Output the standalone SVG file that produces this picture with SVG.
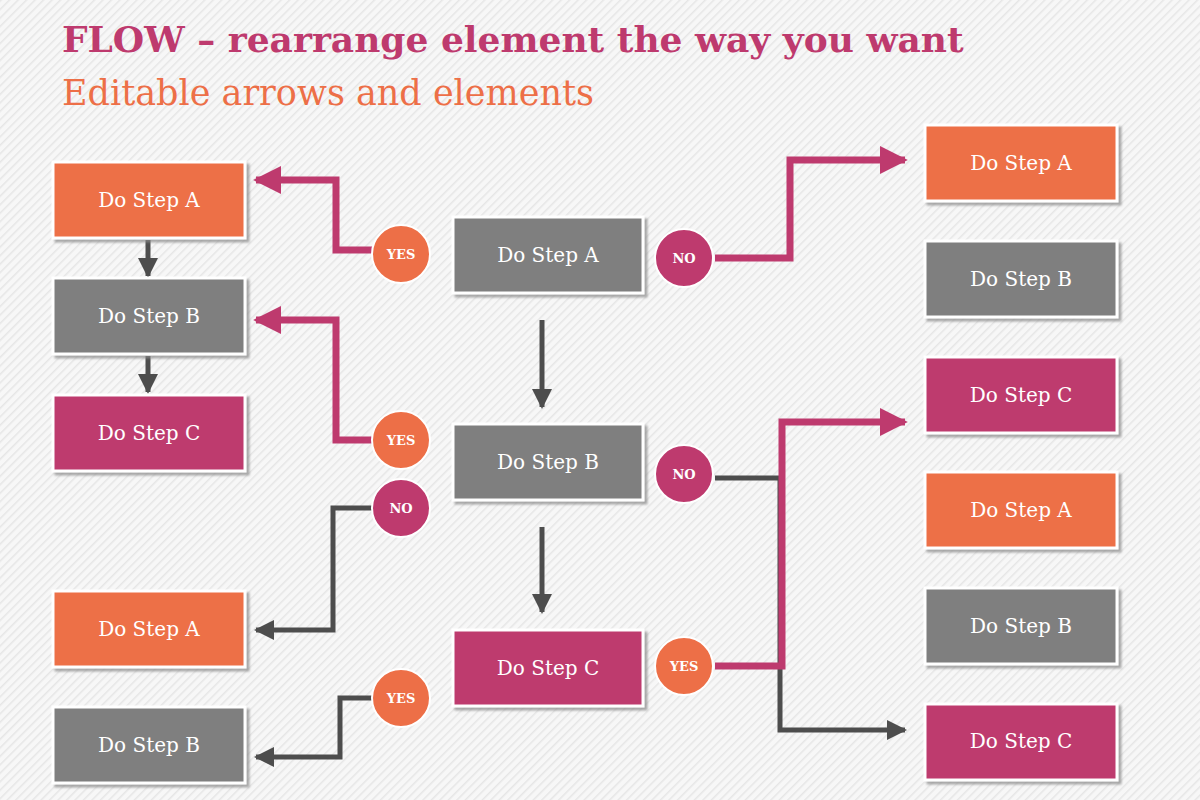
<svg xmlns="http://www.w3.org/2000/svg" width="1200" height="800" viewBox="0 0 1200 800">
<defs>
<pattern id="bg" width="6" height="6" patternUnits="userSpaceOnUse" patternTransform="rotate(45)">
<rect width="6" height="6" fill="#f7f7f7"/><rect width="1.5" height="6" fill="#e6e6e6"/>
</pattern>
<filter id="sh" x="-10%" y="-10%" width="130%" height="130%"><feDropShadow dx="3" dy="3" stdDeviation="1" flood-color="#888" flood-opacity="0.7"/></filter>
<marker id="am" viewBox="0 0 10 10" refX="9" refY="5" markerWidth="4" markerHeight="4" orient="auto" markerUnits="strokeWidth"><path d="M0,0L10,5L0,10z" fill="#be3a6e"/></marker>
<marker id="ag" viewBox="0 0 10 10" refX="9" refY="5" markerWidth="4" markerHeight="4" orient="auto" markerUnits="strokeWidth"><path d="M0,0L10,5L0,10z" fill="#4d4d4d"/></marker>
</defs>
<style>
.box{stroke:#fff;stroke-width:3;filter:url(#sh)}
.o{fill:#ed6f47}.g{fill:#7f7f7f}.m{fill:#be3a6e}
.bt{font-family:"DejaVu Serif",serif;font-size:20px;fill:#fff;text-anchor:middle;dominant-baseline:middle}
.ct{font-family:"DejaVu Serif",serif;font-size:13px;font-weight:bold;fill:#fff;text-anchor:middle;dominant-baseline:middle}
.cir{stroke:#fff;stroke-width:2}
.lm{fill:none;stroke:#be3a6e;stroke-width:7;marker-end:url(#am)}
.lg{fill:none;stroke:#4d4d4d;stroke-width:5;marker-end:url(#ag)}
.lgn{fill:none;stroke:#4d4d4d;stroke-width:5}
.lmn{fill:none;stroke:#be3a6e;stroke-width:7}
</style>
<rect width="1200" height="800" fill="url(#bg)"/>
<text x="62" y="52" font-family="DejaVu Serif,serif" font-weight="bold" font-size="36" fill="#be3a6e">FLOW – rearrange element the way you want</text>
<text x="62" y="105" font-family="DejaVu Serif,serif" font-size="35" fill="#ed6f47">Editable arrows and elements</text>
<g id="connectors">
<path class="lm" d="M373,250H336V180H256"/>
<path class="lm" d="M715,258H790V160H905"/>
<path class="lg" d="M148,240V276"/>
<path class="lg" d="M148,356V392"/>
<path class="lm" d="M373,440H336V320H256"/>
<path class="lg" d="M372,508H333V630H256"/>
<path class="lg" d="M372,698H340V757H256"/>
<path class="lg" d="M542,320V407"/>
<path class="lg" d="M542,527V612"/>
<path class="lg" d="M715,478H780V730H905"/>
<path class="lm" d="M715,666H782V422H905"/>
</g>
<g id="l1"><rect class="box o" x="53" y="162" width="192" height="76"/><text class="bt" x="149" y="201">Do Step A</text></g>
<g id="l2"><rect class="box g" x="53" y="278" width="192" height="76"/><text class="bt" x="149" y="317">Do Step B</text></g>
<g id="l3"><rect class="box m" x="53" y="395" width="192" height="76"/><text class="bt" x="149" y="434">Do Step C</text></g>
<g id="l4"><rect class="box o" x="53" y="591" width="192" height="76"/><text class="bt" x="149" y="630">Do Step A</text></g>
<g id="l5"><rect class="box g" x="53" y="707" width="192" height="76"/><text class="bt" x="149" y="746">Do Step B</text></g>
<g id="c1"><rect class="box g" x="453" y="217" width="190" height="76"/><text class="bt" x="548" y="256">Do Step A</text></g>
<g id="c2"><rect class="box g" x="453" y="424" width="190" height="76"/><text class="bt" x="548" y="463">Do Step B</text></g>
<g id="c3"><rect class="box m" x="453" y="630" width="190" height="76"/><text class="bt" x="548" y="669">Do Step C</text></g>
<g id="r1"><rect class="box o" x="925" y="125" width="192" height="76"/><text class="bt" x="1021" y="164">Do Step A</text></g>
<g id="r2"><rect class="box g" x="925" y="241" width="192" height="76"/><text class="bt" x="1021" y="280">Do Step B</text></g>
<g id="r3"><rect class="box m" x="925" y="357" width="192" height="76"/><text class="bt" x="1021" y="396">Do Step C</text></g>
<g id="r4"><rect class="box o" x="925" y="472" width="192" height="76"/><text class="bt" x="1021" y="511">Do Step A</text></g>
<g id="r5"><rect class="box g" x="925" y="588" width="192" height="76"/><text class="bt" x="1021" y="627">Do Step B</text></g>
<g id="r6"><rect class="box m" x="925" y="704" width="192" height="76"/><text class="bt" x="1021" y="742">Do Step C</text></g>
<g id="y1"><circle class="cir o" cx="401" cy="254" r="29"/><text class="ct" x="401" y="255">YES</text></g>
<g id="n1"><circle class="cir m" cx="684" cy="258" r="29"/><text class="ct" x="684" y="259">NO</text></g>
<g id="y2"><circle class="cir o" cx="401" cy="440" r="29"/><text class="ct" x="401" y="441">YES</text></g>
<g id="n2"><circle class="cir m" cx="401" cy="508" r="29"/><text class="ct" x="401" y="509">NO</text></g>
<g id="n3"><circle class="cir m" cx="684" cy="474" r="29"/><text class="ct" x="684" y="475">NO</text></g>
<g id="y3"><circle class="cir o" cx="684" cy="666" r="29"/><text class="ct" x="684" y="667">YES</text></g>
<g id="y4"><circle class="cir o" cx="401" cy="698" r="29"/><text class="ct" x="401" y="699">YES</text></g>
</svg>
